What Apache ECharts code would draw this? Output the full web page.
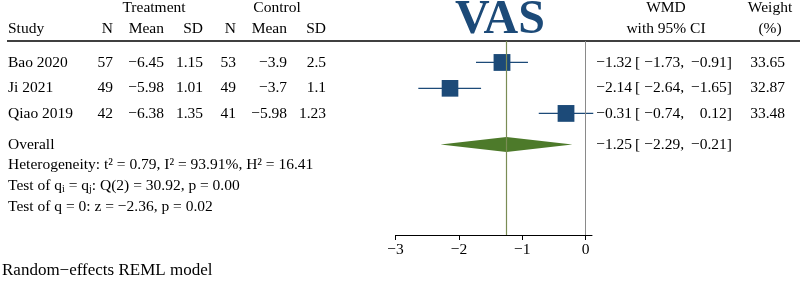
<!DOCTYPE html>
<html>
<head>
<meta charset="utf-8">
<script src="https://cdn.jsdelivr.net/npm/echarts@6/dist/echarts.min.js"></script>
<style>html,body{margin:0;padding:0;background:#fff}#c{width:800px;height:282px}</style>
</head>
<body>
<div id="c"></div>
<script>
// ---- data ----
const studies = ['Bao 2020', 'Ji 2021', 'Qiao 2019'];
const treatN = [57, 49, 42];
const treatMean = [-6.45, -5.98, -6.38];
const treatSD = [1.15, 1.01, 1.35];
const ctrlN = [53, 49, 41];
const ctrlMean = [-3.9, -3.7, -5.98];
const ctrlSD = [2.5, 1.1, 1.23];
const wmd = [-1.32, -2.14, -0.31];
const ciLow = [-1.73, -2.64, -0.74];
const ciHigh = [-0.91, -1.65, 0.12];
const weights = [33.65, 32.87, 33.48];
const overallEst = -1.25, overallLow = -2.29, overallHigh = -0.21;
const rowPos = [0.83, 1.83, 2.8];
const overallPos = 4.0;
const xTicks = [-3, -2, -1, 0];

const FONT = '"Liberation Serif", "Times New Roman", serif';
const FS = 15.5;
const NAVY = '#1c4a78';
const GREEN = '#4d7a2a';
const fmt = v => String(v).replace('-', '\u2212');
const fmt2 = v => v.toFixed(2).replace('-', '\u2212');

const chart = echarts.init(document.getElementById('c'), null, {renderer: 'canvas'});

const option = {
  animation: false,
  grid: {left: 395.5, right: 208, top: 41, bottom: 47},
  xAxis: {
    type: 'value', min: -3, max: 0.1, position: 'bottom',
    axisLine: {onZero: false, lineStyle: {color: '#000', width: 1}},
    axisTick: {customValues: xTicks, length: 5, lineStyle: {color: '#000'}},
    axisLabel: {customValues: xTicks, formatter: v => fmt(v), color: '#000', fontFamily: FONT, fontSize: FS, margin: 7},
    splitLine: {show: false}
  },
  yAxis: {type: 'value', min: 0, max: 7.5, inverse: true, show: false},
  series: [
    {
      type: 'line', data: [], silent: true,
      markLine: {
        symbol: 'none', silent: true, label: {show: false},
        data: [
          {xAxis: 0, lineStyle: {color: '#8a8a8a', width: 1, type: 'solid'}},
          {xAxis: overallEst, lineStyle: {color: '#7a8c55', width: 1.2, type: 'solid'}}
        ]
      }
    },
    {
      type: 'custom',
      data: wmd.map((v, i) => [v, ciLow[i], ciHigh[i], rowPos[i], weights[i]]),
      renderItem: (params, api) => {
        const y = api.value(3);
        const c = api.coord([api.value(0), y]);
        const lo = api.coord([api.value(1), y]);
        const hi = api.coord([api.value(2), y]);
        const s = Math.sqrt(api.value(4)) * 2.9;
        return {
          type: 'group',
          children: [
            {type: 'line', shape: {x1: lo[0], y1: lo[1], x2: hi[0], y2: hi[1]}, style: {stroke: NAVY, lineWidth: 1.3}},
            {type: 'rect', shape: {x: c[0] - s / 2, y: c[1] - s / 2, width: s, height: s}, style: {fill: NAVY}}
          ]
        };
      }
    },
    {
      type: 'custom',
      data: [[overallEst, overallLow, overallHigh, overallPos]],
      renderItem: (params, api) => {
        const y = api.value(3);
        const c = api.coord([api.value(0), y]);
        const lo = api.coord([api.value(1), y]);
        const hi = api.coord([api.value(2), y]);
        const h = 7.5;
        return {
          type: 'polygon',
          shape: {points: [[lo[0], c[1]], [c[0], c[1] - h], [hi[0], c[1]], [c[0], c[1] + h]]},
          style: {fill: GREEN}
        };
      }
    }
  ]
};
chart.setOption(option);

const py = v => chart.convertToPixel({yAxisIndex: 0}, v);
const txt = (x, y, text, align, extra) => Object.assign({
  type: 'text', x: x, y: y, silent: true,
  style: Object.assign({text: text, fill: '#000', font: FS + 'px ' + FONT, align: align || 'left', verticalAlign: 'middle'}, extra || {})
});

const g = [];
// title
g.push(txt(500, 21, 'VAS', 'center', {font: 'bold 48px ' + FONT, fill: NAVY}));
// header rows
const H1 = 8, H2 = 29;
g.push(txt(154, H1, 'Treatment', 'center'));
g.push(txt(277, H1, 'Control', 'center'));
g.push(txt(8, H2, 'Study'));
const colX = [113, 164, 203, 236, 287, 326];
['N', 'Mean', 'SD', 'N', 'Mean', 'SD'].forEach((h, i) => g.push(txt(colX[i], H2, h, 'right')));
g.push(txt(666, H1, 'WMD', 'center'));
g.push(txt(666, H2, 'with 95% CI', 'center'));
g.push(txt(770, H1, 'Weight', 'center'));
g.push(txt(770, H2, '(%)', 'center'));
// header rule
g.push({type: 'line', silent: true, shape: {x1: 7, y1: 41, x2: 800, y2: 41}, style: {stroke: '#000', lineWidth: 1.4}});

const ciText = (y, est, lo, hi) => {
  g.push(txt(632, y, fmt2(est), 'right'));
  g.push(txt(635, y, '[', 'left'));
  g.push(txt(684, y, fmt2(lo) + ',', 'right'));
  g.push(txt(732, y, fmt2(hi) + ']', 'right'));
};
const cdata = [treatN, treatMean, treatSD, ctrlN, ctrlMean, ctrlSD];
studies.forEach((s, i) => {
  const y = py(rowPos[i]);
  g.push(txt(8, y, s));
  cdata.forEach((arr, j) => g.push(txt(colX[j], y, fmt(arr[i]), 'right')));
  ciText(y, wmd[i], ciLow[i], ciHigh[i]);
  g.push(txt(785, y, weights[i].toFixed(2), 'right'));
});
const oy = py(overallPos);
g.push(txt(8, oy, 'Overall'));
ciText(oy, overallEst, overallLow, overallHigh);

// stats
const sub = {fontSize: 10, padding: [7, 0, 0, 0], fontFamily: FONT, fill: '#000'};
const base = {fontSize: FS, fontFamily: FONT, fill: '#000'};
const statY = [165, 186, 207];
g.push(txt(8, statY[0], 'Heterogeneity: t\u00b2 = 0.79, I\u00b2 = 93.91%, H\u00b2 = 16.41'));
g.push({type: 'text', x: 8, y: statY[1], silent: true, style: {
  text: '{a|Test of q}{s|i}{a| = q}{s|j}{a|: Q(2) = 30.92, p = 0.00}',
  verticalAlign: 'middle', rich: {a: base, s: sub}}});
g.push(txt(8, statY[2], 'Test of q = 0: z = \u22122.36, p = 0.02'));
g.push(txt(2, 271, 'Random\u2212effects REML model', 'left', {font: '17px ' + FONT}));

chart.setOption({graphic: {elements: g}});
</script>
</body>
</html>
